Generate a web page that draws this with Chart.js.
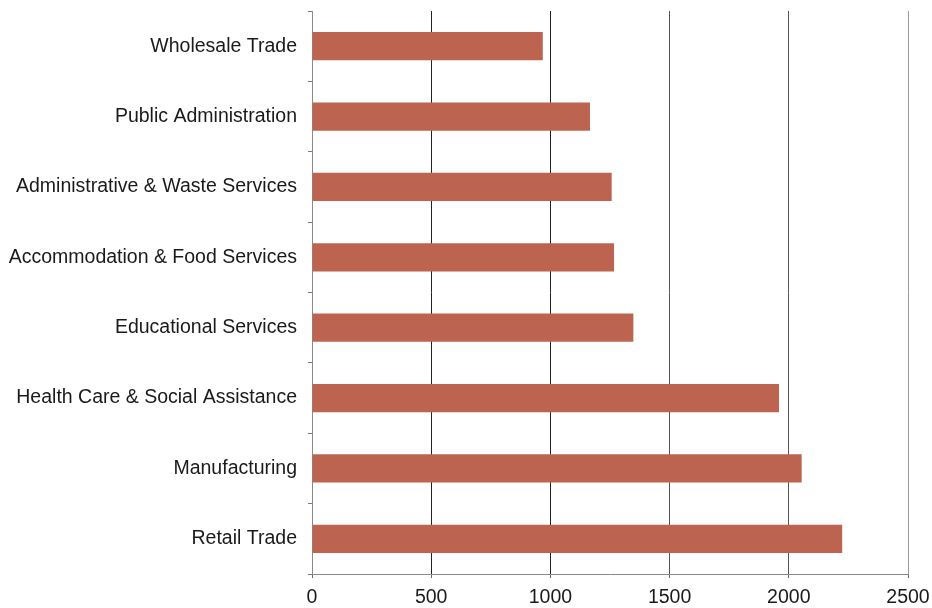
<!DOCTYPE html>
<html>
<head>
<meta charset="utf-8">
<script src="https://cdn.jsdelivr.net/npm/chart.js@4/dist/chart.umd.min.js"></script>
<style>
  html, body { margin: 0; padding: 0; background: #ffffff; }
  #wrap { width: 932px; height: 608px; position: relative; }
</style>
</head>
<body>
<div id="wrap"><canvas id="c" width="932" height="608"></canvas></div>
<script>
// Industries, listed top to bottom
const industries = [
  "Wholesale Trade",
  "Public Administration",
  "Administrative & Waste Services",
  "Accommodation & Food Services",
  "Educational Services",
  "Health Care & Social Assistance",
  "Manufacturing",
  "Retail Trade"
];
// Employment per industry
const employment = [968, 1166, 1257, 1267, 1348, 1959, 2054, 2224];
// Value axis ticks
const xTicks = [0, 500, 1000, 1500, 2000, 2500];

const barColor = "#bd6450";
const labelFont = { family: "Liberation Sans, Arial, sans-serif", size: 19.5 };

new Chart(document.getElementById("c"), {
  type: "bar",
  data: {
    labels: industries,
    datasets: [{
      data: employment,
      backgroundColor: barColor,
      borderWidth: 0,
      categoryPercentage: 0.4,
      barPercentage: 1.0
    }]
  },
  options: {
    indexAxis: "y",
    responsive: false,
    animation: false,
    layout: { padding: { top: 11, right: 24, left: 0, bottom: 0 } },
    plugins: { legend: { display: false }, tooltip: { enabled: false } },
    scales: {
      x: {
        min: 0,
        max: 2500,
        afterBuildTicks: (axis) => { axis.ticks = xTicks.map(v => ({ value: v })); },
        afterFit: (axis) => {
          axis.height = 34;
          axis.paddingLeft = 0;
          axis.paddingRight = 0;
        },
        border: { display: true, color: "#8a8a8a", width: 1 },
        grid: {
          drawOnChartArea: true,
          drawTicks: true,
          tickLength: 4,
          lineWidth: 1,
          color: (ctx) => {
            const v = ctx.tick ? ctx.tick.value : 0;
            if (v === 0) return "#8a8a8a";
            if (v === 2500) return "#9a9a9a";
            if (v >= 1500) return "#555555";
            return "#222222";
          },
          tickColor: "#6a6a6a"
        },
        ticks: {
          color: "#1a1a1a",
          padding: 8,
          font: labelFont,
          maxRotation: 0,
          callback: (v) => String(v)
        }
      },
      y: {
        afterFit: (axis) => {
          axis.width = 312;
          axis.paddingTop = 0;
          axis.paddingBottom = 0;
        },
        border: { display: true, color: "#8a8a8a", width: 1 },
        grid: {
          offset: true,
          drawOnChartArea: false,
          drawTicks: true,
          tickLength: 4,
          tickColor: "#7a7a7a"
        },
        ticks: {
          color: "#1a1a1a",
          padding: 11,
          font: labelFont
        }
      }
    }
  }
});
</script>
</body>
</html>
